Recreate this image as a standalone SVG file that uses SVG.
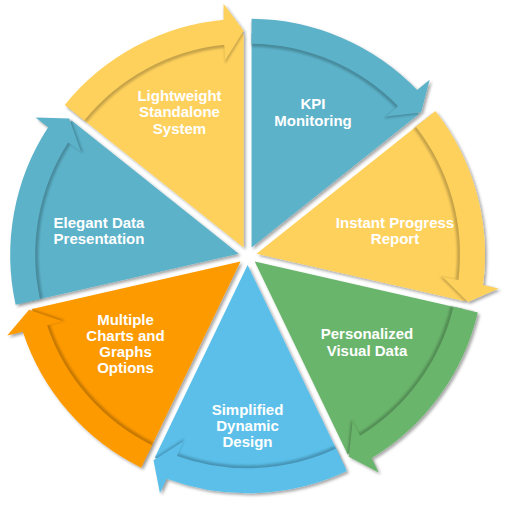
<svg xmlns="http://www.w3.org/2000/svg" xmlns:xlink="http://www.w3.org/1999/xlink" width="506" height="505" viewBox="0 0 506 505">
<style>
.lbl{font-family:"Liberation Sans",Arial,Helvetica,sans-serif;font-weight:bold;font-size:15px;fill:#fff;text-anchor:middle}
.bandsh{fill:#000;opacity:0.22}
</style>
<defs>
<filter id="ds" x="-10%" y="-10%" width="120%" height="120%">
<feDropShadow dx="2" dy="2" stdDeviation="1.6" flood-color="#000" flood-opacity="0.35"/>
</filter>
<filter id="soft" x="-10%" y="-10%" width="120%" height="120%">
<feGaussianBlur stdDeviation="1.2"/>
</filter>
<path id="band" d="M2,-232.99 A233,233 0 0 1 167.66,-161.80 L180.10,-171.94 L171.53,-139.35 L136.31,-135.22 L148.45,-145.69 A208,208 0 0 0 2,-207.99 Z"/>
<g id="wedge">
<g transform="translate(1.9525,-4.0544)">
<path d="M2,-4.153 L2,-217.99 A218,218 0 0 1 169.19,-137.48 Z"/>
<use xlink:href="#band" href="#band" class="bandsh" transform="scale(0.986)" filter="url(#soft)"/>
<use xlink:href="#band" href="#band"/>
</g>
</g>
</defs>
<rect width="506" height="505" fill="#fff"/>
<g id="connectors"/>
<g id="node-kpi">
<g filter="url(#ds)"><use href="#wedge" xlink:href="#wedge" fill="#5CB2C9" transform="translate(247.6,255.8) rotate(0)"/></g>
<text class="lbl" x="313" y="109">KPI</text>
<text class="lbl" x="313" y="125.5">Monitoring</text>
</g>
<g id="node-instant">
<g filter="url(#ds)"><use href="#wedge" xlink:href="#wedge" fill="#FED15D" transform="translate(247.6,255.8) rotate(51.4286)"/></g>
<text class="lbl" x="395" y="227.5">Instant Progress</text>
<text class="lbl" x="395" y="244">Report</text>
</g>
<g id="node-personalized">
<g filter="url(#ds)"><use href="#wedge" xlink:href="#wedge" fill="#6AB56C" transform="translate(247.6,255.8) rotate(102.8571)"/></g>
<text class="lbl" x="367" y="339">Personalized</text>
<text class="lbl" x="367" y="355.5">Visual Data</text>
</g>
<g id="node-simplified">
<g filter="url(#ds)"><use href="#wedge" xlink:href="#wedge" fill="#5BBFE9" transform="translate(247.6,255.8) rotate(154.2857)"/></g>
<text class="lbl" x="247.5" y="414.5">Simplified</text>
<text class="lbl" x="247.5" y="430.5">Dynamic</text>
<text class="lbl" x="247.5" y="446.5">Design</text>
</g>
<g id="node-multiple">
<g filter="url(#ds)"><use href="#wedge" xlink:href="#wedge" fill="#FD9A04" transform="translate(247.6,255.8) rotate(205.7143)"/></g>
<text class="lbl" x="125.5" y="324.5">Multiple</text>
<text class="lbl" x="125.5" y="340.5">Charts and</text>
<text class="lbl" x="125.5" y="356.5">Graphs</text>
<text class="lbl" x="125.5" y="372.5">Options</text>
</g>
<g id="node-elegant">
<g filter="url(#ds)"><use href="#wedge" xlink:href="#wedge" fill="#5CB2C9" transform="translate(247.6,255.8) rotate(257.1429)"/></g>
<text class="lbl" x="99" y="227.5">Elegant Data</text>
<text class="lbl" x="99" y="243.5">Presentation</text>
</g>
<g id="node-lightweight">
<g filter="url(#ds)"><use href="#wedge" xlink:href="#wedge" fill="#FED15D" transform="translate(247.6,255.8) rotate(308.5714)"/></g>
<text class="lbl" x="179.5" y="100.5">Lightweight</text>
<text class="lbl" x="179.5" y="117">Standalone</text>
<text class="lbl" x="179.5" y="133.5">System</text>
</g>
</svg>
